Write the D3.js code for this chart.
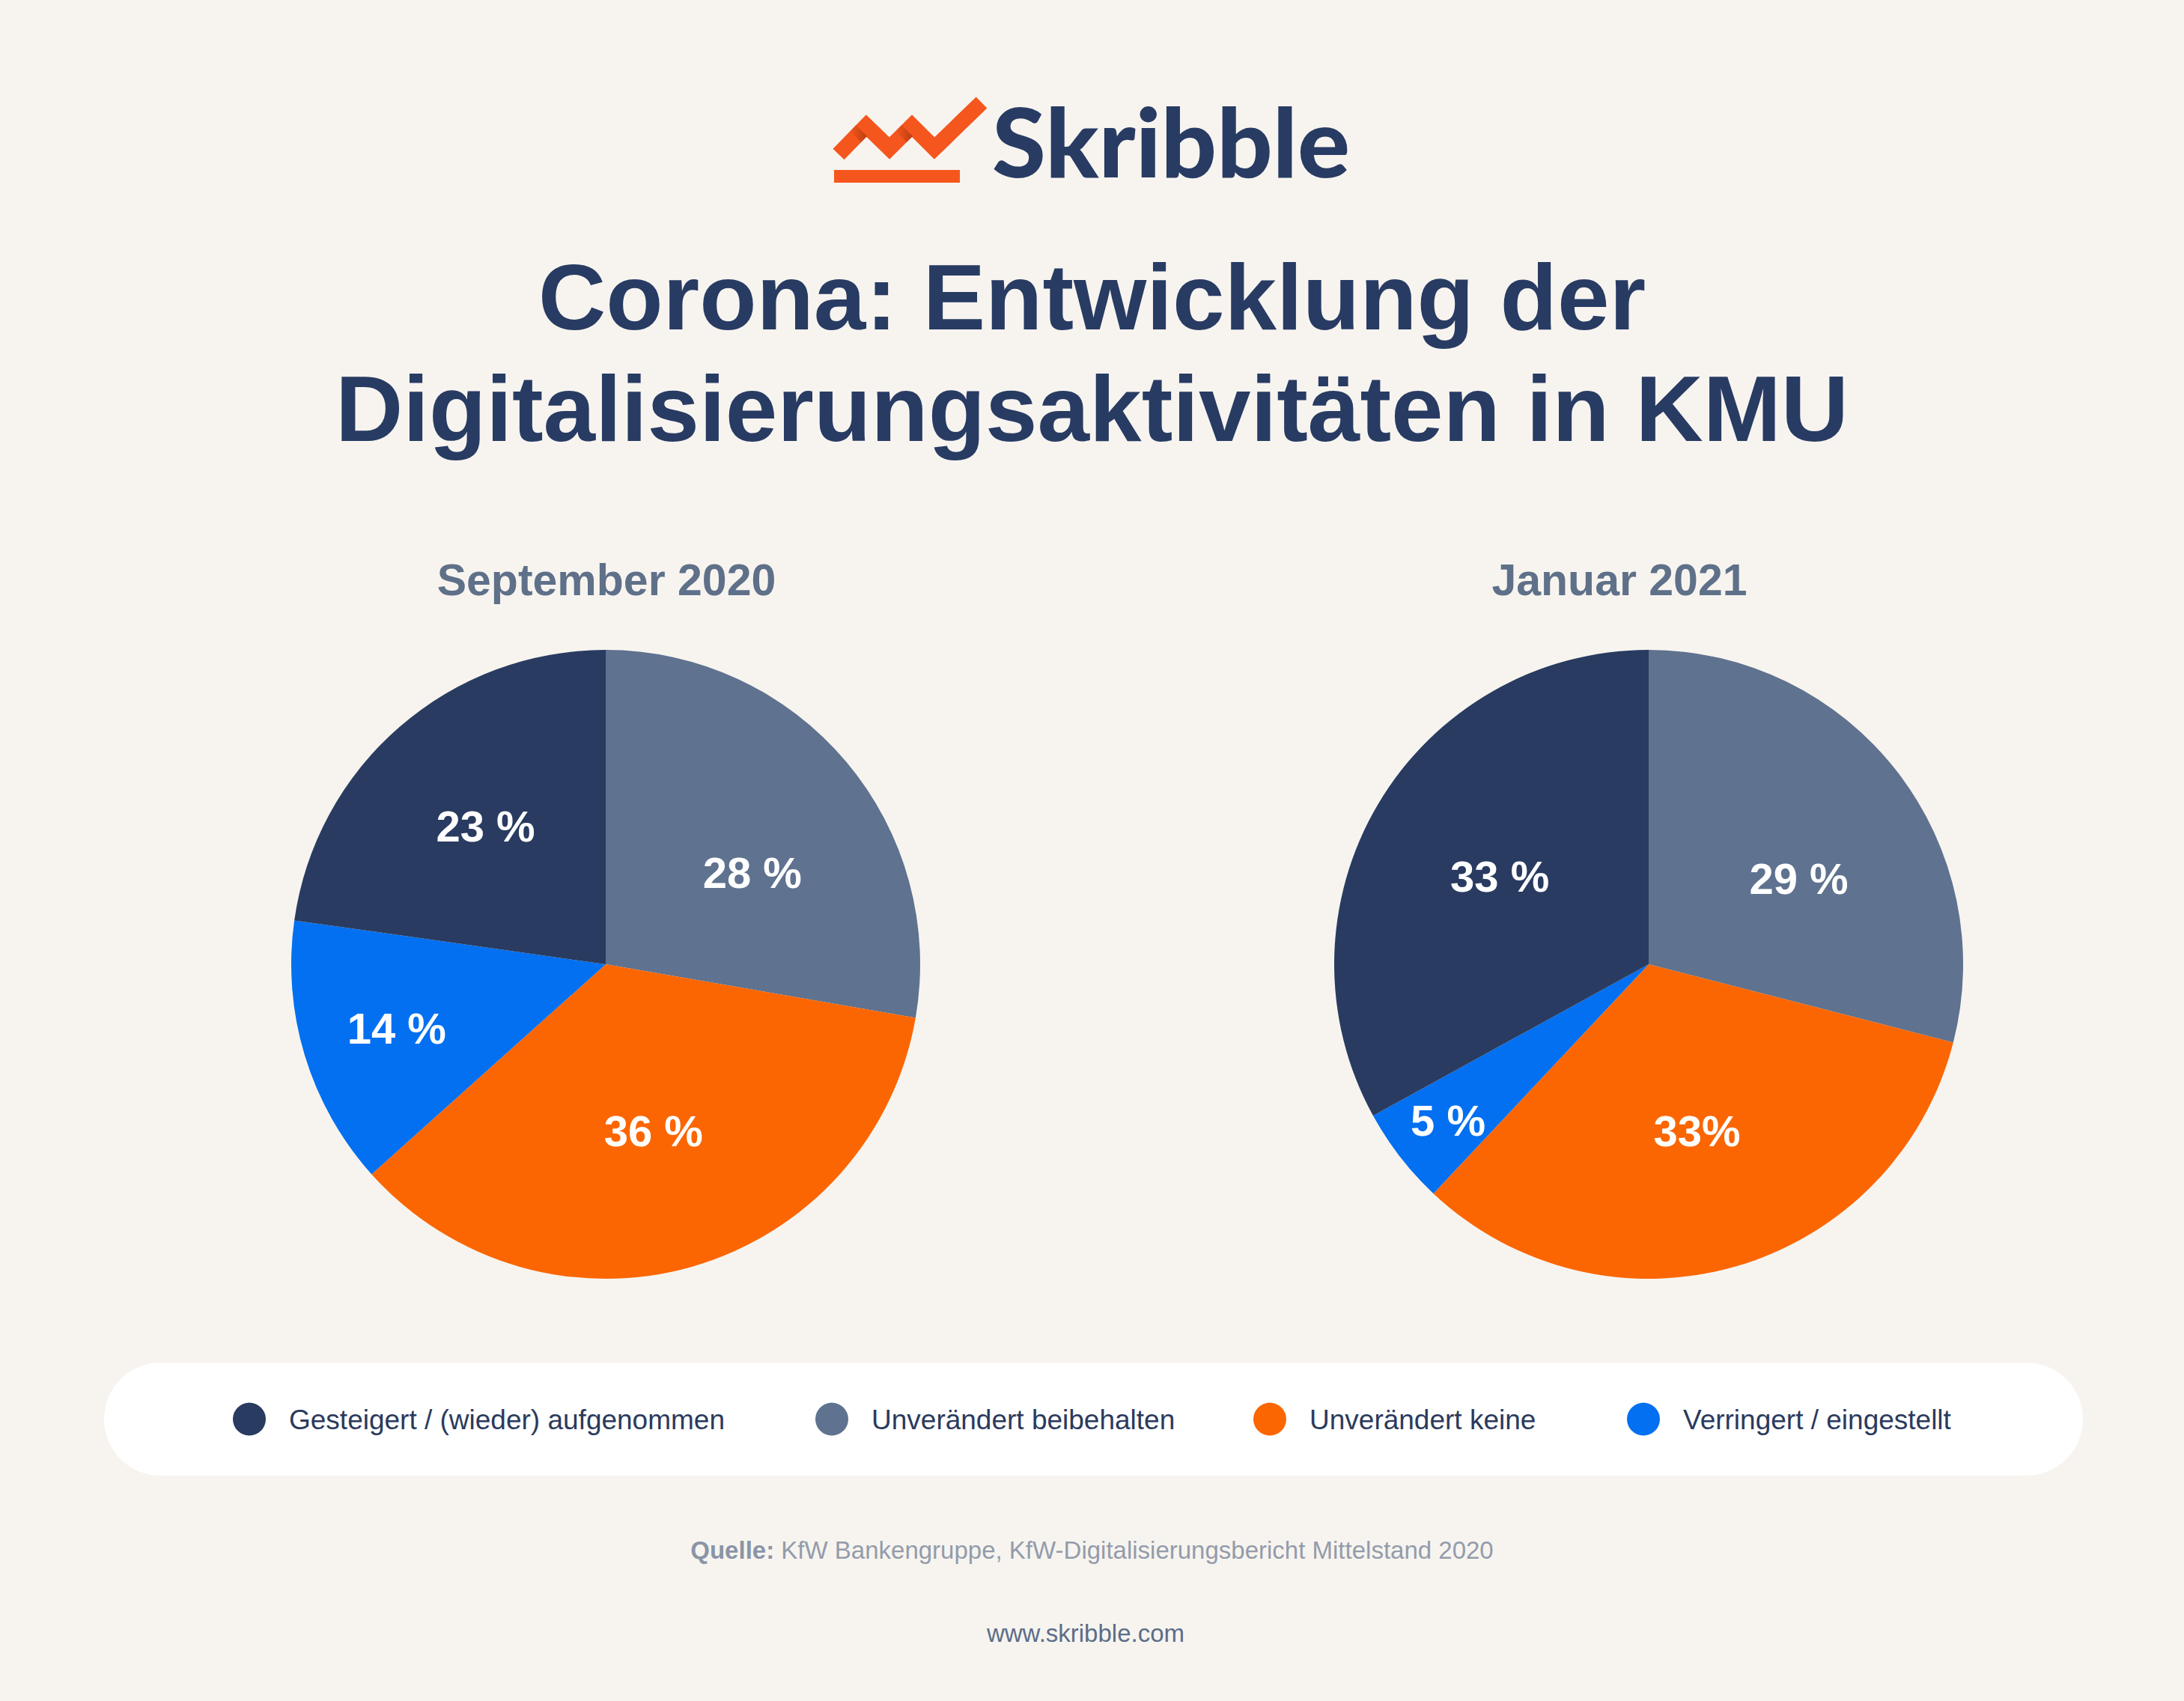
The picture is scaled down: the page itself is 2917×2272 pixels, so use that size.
<!DOCTYPE html>
<html>
<head>
<meta charset="utf-8">
<script src="https://cdn.jsdelivr.net/npm/d3@7"></script>
<style>
  html, body { margin: 0; padding: 0; background: #f7f4ef; }
  svg { display: block; }
</style>
</head>
<body>
<script>
// ---------- data ----------
const categories = ["Gesteigert / (wieder) aufgenommen", "Unverändert beibehalten", "Unverändert keine", "Verringert / eingestellt"];
const colors = ["#293b61", "#5f728f", "#fb6602", "#0270f0"];
const sept2020 = [23, 28, 36, 14];
const jan2021 = [33, 29, 33, 5];
const sept2020Labels = ["23 %", "28 %", "36 %", "14 %"];
const jan2021Labels = ["33 %", "29 %", "33%", "5 %"];
const pieTitles = ["September 2020", "Januar 2021"];
const titleLines = ["Corona: Entwicklung der", "Digitalisierungsaktivitäten in KMU"];
const sourceBold = "Quelle:";
const sourceText = " KfW Bankengruppe, KfW-Digitalisierungsbericht Mittelstand 2020";
const website = "www.skribble.com";
// clockwise order starting at 12 o'clock
const drawOrder = [1, 2, 3, 0];

// ---------- layout ----------
const W = 2917, H = 2272;
const navy = "#283b63";
const svg = d3.select("body").append("svg").attr("width", W).attr("height", H);
svg.append("rect").attr("width", W).attr("height", H).attr("fill", "#f7f4ef");

// ---------- logo ----------
const logo = svg.append("g");
const logoOrange = "#f5561d";
const defs = svg.append("defs");
const grad = defs.append("linearGradient").attr("id", "shade")
  .attr("x1", "0%").attr("y1", "0%").attr("x2", "100%").attr("y2", "0%");
grad.append("stop").attr("offset", "0%").attr("stop-color", "#a8360c").attr("stop-opacity", 0);
grad.append("stop").attr("offset", "100%").attr("stop-color", "#a8360c").attr("stop-opacity", 0.75);
logo.append("rect").attr("x", 1114).attr("y", 227).attr("width", 168).attr("height", 17).attr("fill", logoOrange);
const zig = [[1120, 206], [1157, 168], [1188, 198], [1218, 168], [1248, 198], [1311, 137]];
logo.append("path").attr("d", d3.line()(zig))
  .attr("fill", "none").attr("stroke", logoOrange).attr("stroke-width", 21)
  .attr("stroke-linejoin", "miter").attr("stroke-linecap", "butt");
// shading where the ribbon folds
[[1157, 168], [1218, 168]].forEach(([px, py]) => {
  logo.append("path")
    .attr("d", `M${px - 22},${py + 7} L${px - 7},${py + 22} L${px + 1},${py + 14} L${px - 14},${py - 1} Z`)
    .attr("fill", "url(#shade)");
});
const logoText = logo.append("text").attr("x", 1325).attr("y", 237)
  .attr("font-family", "Lato, 'Open Sans', sans-serif").attr("font-weight", 900)
  .attr("font-size", 128).attr("fill", navy).text("Skribble");
logoText.attr("textLength", 478).attr("lengthAdjust", "spacingAndGlyphs");

// ---------- title ----------
const title = svg.append("text").attr("text-anchor", "middle")
  .attr("font-family", "'Liberation Sans', Arial, sans-serif").attr("font-weight", 700)
  .attr("font-size", 125).attr("fill", navy);
title.selectAll("tspan").data(titleLines).join("tspan")
  .attr("x", W / 2).attr("y", (d, i) => 440 + i * 149).text(d => d);

// ---------- pies ----------
const R = 420;
const pieCenters = [[809, 1288], [2202, 1288]];
const titleX = [810, 2163];
const series = [sept2020, jan2021];
const seriesLabels = [sept2020Labels, jan2021Labels];

const pie = d3.pie().sort(null).value(d => d.value);
const arc = d3.arc().innerRadius(0).outerRadius(R);

series.forEach((vals, si) => {
  const [cx, cy] = pieCenters[si];
  svg.append("text").attr("x", titleX[si]).attr("y", 795).attr("text-anchor", "middle")
    .attr("font-family", "'Liberation Sans', Arial, sans-serif").attr("font-weight", 700)
    .attr("font-size", 59).attr("fill", "#5f7089").text(pieTitles[si]);

  const data = drawOrder.map(k => ({ key: k, value: vals[k], label: seriesLabels[si][k] }));
  const arcs = pie(data);
  const g = svg.append("g").attr("transform", `translate(${cx},${cy})`);
  g.selectAll("path").data(arcs).join("path")
    .attr("d", arc).attr("fill", d => colors[d.data.key]);
  g.selectAll("text").data(arcs).join("text")
    .attr("transform", d => {
      const lr = R * Math.max(0.55, 0.87 - 0.0125 * d.data.value);
      // labels of the first (top-right) slice sit slightly further clockwise
      const shift = d.index === 0 ? 0.14 : 0;
      const a = (d.startAngle + d.endAngle) / 2 + shift;
      return `translate(${lr * Math.sin(a)},${-lr * Math.cos(a)})`;
    })
    .attr("text-anchor", "middle").attr("dy", "0.36em")
    .attr("font-family", "'Liberation Sans', Arial, sans-serif").attr("font-weight", 700)
    .attr("font-size", 58).attr("fill", "#ffffff").text(d => d.data.label);
});

// ---------- legend ----------
const legY = 1820, legH = 151;
svg.append("rect").attr("x", 139).attr("y", legY).attr("width", 2643).attr("height", legH)
  .attr("rx", legH / 2).attr("ry", legH / 2).attr("fill", "#ffffff");
const legendX = [333, 1111, 1696, 2195];
const leg = svg.append("g").selectAll("g").data(categories).join("g")
  .attr("transform", (d, i) => `translate(${legendX[i]},${legY + legH / 2})`);
leg.append("circle").attr("r", 22).attr("fill", (d, i) => colors[i]);
leg.append("text").attr("x", 53).attr("y", 13)
  .attr("font-family", "'Liberation Sans', Arial, sans-serif").attr("font-size", 37)
  .attr("fill", "#2b3a5c").text(d => d);

// ---------- source ----------
const src = svg.append("text").attr("x", W / 2).attr("y", 2082).attr("text-anchor", "middle")
  .attr("font-family", "'Liberation Sans', Arial, sans-serif").attr("font-size", 33).attr("fill", "#939cab");
src.append("tspan").attr("font-weight", 700).attr("fill", "#8a95a6").text(sourceBold);
src.append("tspan").text(sourceText);

svg.append("text").attr("x", 1450).attr("y", 2193).attr("text-anchor", "middle")
  .attr("font-family", "'Liberation Sans', Arial, sans-serif").attr("font-size", 33)
  .attr("fill", "#5c6d88").text(website);
</script>
</body>
</html>
